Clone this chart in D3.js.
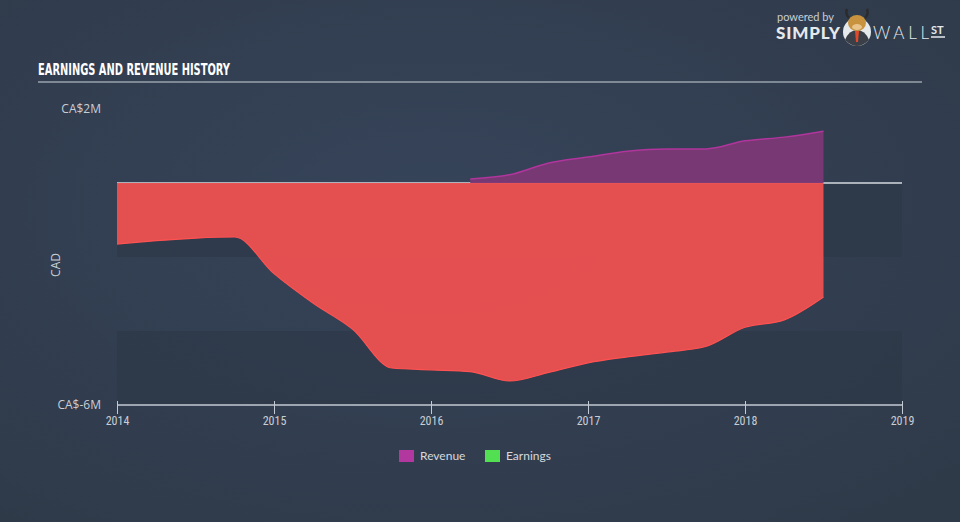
<!DOCTYPE html>
<html>
<head>
<meta charset="utf-8">
<script src="https://cdn.jsdelivr.net/npm/d3@7"></script>
<style>
  body { margin: 0; background: #344051; }
  svg { display: block; }
</style>
</head>
<body>
<script>
// data
var revenueYears = [2016.25, 2016.5, 2016.75, 2017.0, 2017.25, 2017.5, 2017.75, 2018.0, 2018.25, 2018.5];
var revenueValues = [0.11, 0.22, 0.54, 0.7, 0.86, 0.92, 0.92, 1.14, 1.24, 1.4];

var earningsYears = [2014.0, 2014.25, 2014.5, 2014.75, 2015.0, 2015.25, 2015.5, 2015.75, 2016.0, 2016.25,
                     2016.5, 2016.75, 2017.0, 2017.25, 2017.5, 2017.75, 2018.0, 2018.25, 2018.5];
var earningsValues = [-1.65, -1.56, -1.49, -1.46, -2.45, -3.25, -3.95, -5.0, -5.05, -5.1,
                      -5.35, -5.12, -4.86, -4.7, -4.57, -4.42, -3.9, -3.7, -3.08];

var xTicks = [2014, 2015, 2016, 2017, 2018, 2019];
var yTickValues = [2, -6];
var yTickLabels = ["CA$2M", "CA$-6M"];
var bandEdges = [2, 0, -2, -4, -6];
var legendNames = ["Revenue", "Earnings"];
var legendColors = ["#b2379e", "#52e052"];

var width = 960,
    height = 522;

var x = d3.scaleLinear().domain([2014, 2019]).range([117, 902]);
var y = d3.scaleLinear().domain([-6, 2]).range([405, 109]);

var svg = d3.select("body").append("svg")
    .attr("width", width)
    .attr("height", height);

var defs = svg.append("defs");
var bg = defs.append("radialGradient")
    .attr("id", "bg")
    .attr("cx", "45%").attr("cy", "40%").attr("r", "75%");
bg.append("stop").attr("offset", "0%").attr("stop-color", "#36445a");
bg.append("stop").attr("offset", "100%").attr("stop-color", "#2f3a49");

svg.append("rect")
    .attr("width", width)
    .attr("height", height)
    .attr("fill", "url(#bg)");

// title
svg.append("text")
    .attr("x", 38)
    .attr("y", 75)
    .attr("fill", "#ffffff")
    .style("font-family", "'DejaVu Sans Condensed', 'Liberation Sans Narrow', sans-serif")
    .style("font-weight", "bold")
    .style("font-size", "16px")
    .attr("textLength", 192)
    .attr("lengthAdjust", "spacingAndGlyphs")
    .text("EARNINGS AND REVENUE HISTORY");

svg.append("line")
    .attr("x1", 38).attr("x2", 922)
    .attr("y1", 82).attr("y2", 82)
    .attr("stroke", "#9aa3ad")
    .attr("stroke-width", 1.5);

// logo
var logo = svg.append("g").style("font-family", "Lato, 'Open Sans', sans-serif");
logo.append("text")
    .attr("x", 777).attr("y", 21)
    .attr("fill", "#c9ced5")
    .style("font-size", "11px")
    .text("powered by");
logo.append("text")
    .attr("x", 776).attr("y", 39)
    .attr("fill", "#e6e9ec")
    .style("font-size", "17px")
    .style("font-weight", "900")
    .attr("textLength", 64)
    .text("SIMPLY");
logo.append("circle")
    .attr("cx", 857).attr("cy", 32).attr("r", 14)
    .attr("fill", "#e6e9ec");
logo.append("path")
    .attr("d", "M845,40 Q849,30 857,30 Q865,30 869,40 Q863,46 857,46 Q851,46 845,40 Z")
    .attr("fill", "#3b3f47");
logo.append("path")
    .attr("d", "M855,31 L859,31 L858,42 L856,42 Z")
    .attr("fill", "#e04a2a");
logo.append("ellipse")
    .attr("cx", 857).attr("cy", 23).attr("rx", 9).attr("ry", 8)
    .attr("fill", "#c8923e");
logo.append("ellipse")
    .attr("cx", 857).attr("cy", 27).attr("rx", 5).attr("ry", 3)
    .attr("fill", "#e8c48a");
logo.append("path")
    .attr("d", "M849,18 Q845,14 847,9 M865,18 Q869,14 867,9")
    .attr("fill", "none")
    .attr("stroke", "#2b2b2b").attr("stroke-width", 2.5);
logo.append("text")
    .attr("x", 873).attr("y", 39)
    .attr("fill", "#e6e9ec")
    .style("font-size", "17px")
    .style("font-weight", "300")
    .attr("textLength", 56)
    .text("WALL");
logo.append("text")
    .attr("x", 931).attr("y", 34)
    .attr("fill", "#e6e9ec")
    .style("font-size", "11px")
    .style("font-weight", "bold")
    .text("ST");
logo.append("line")
    .attr("x1", 931).attr("x2", 945)
    .attr("y1", 37).attr("y2", 37)
    .attr("stroke", "#e6e9ec").attr("stroke-width", 1.5);

// bands
var bands = d3.pairs(bandEdges);
svg.selectAll(".band")
    .data(bands)
    .enter().append("rect")
    .attr("class", "band")
    .attr("x", x(2014))
    .attr("width", x(2019) - x(2014))
    .attr("y", function(d) { return y(d[0]); })
    .attr("height", function(d) { return y(d[1]) - y(d[0]); })
    .attr("fill", function(d, i) { return i % 2 ? "#2c3745" : "#36435a"; })
    .attr("fill-opacity", function(d, i) { return i % 2 ? 0.55 : 0.0; });

// zero line
svg.append("line")
    .attr("x1", x(2014)).attr("x2", x(2019))
    .attr("y1", y(0)).attr("y2", y(0))
    .attr("stroke", "#d6dade")
    .attr("stroke-width", 1.5);

var revenue = revenueYears.map(function(d, i) { return { year: d, value: revenueValues[i] }; });
var earnings = earningsYears.map(function(d, i) { return { year: d, value: earningsValues[i] }; });

var area = d3.area()
    .curve(d3.curveMonotoneX)
    .x(function(d) { return x(d.year); })
    .y0(y(0))
    .y1(function(d) { return y(d.value); });

var line = d3.line()
    .curve(d3.curveMonotoneX)
    .x(function(d) { return x(d.year); })
    .y(function(d) { return y(d.value); });

svg.append("path")
    .attr("d", area(revenue))
    .attr("fill", "#7b3875")
    .attr("fill-opacity", 0.97);
svg.append("path")
    .attr("d", line(revenue))
    .attr("fill", "none")
    .attr("stroke", "#b0359c")
    .attr("stroke-width", 1.5);

svg.append("path")
    .attr("d", area(earnings))
    .attr("fill", "#ea4f51")
    .attr("fill-opacity", 0.97);
svg.append("path")
    .attr("d", line(earnings))
    .attr("fill", "none")
    .attr("stroke", "#ff5252")
    .attr("stroke-width", 1.2);

// y labels
svg.selectAll(".ylab")
    .data(yTickValues)
    .enter().append("text")
    .attr("class", "ylab")
    .attr("x", 101)
    .attr("y", function(d) { return y(d) + 4; })
    .attr("text-anchor", "end")
    .attr("fill", "#c9ced5")
    .style("font-family", "'Open Sans', sans-serif")
    .style("font-size", "12px")
    .text(function(d, i) { return yTickLabels[i]; });

svg.append("text")
    .attr("transform", "translate(60,265) rotate(-90)")
    .attr("text-anchor", "middle")
    .attr("fill", "#c9ced5")
    .style("font-family", "'Open Sans', sans-serif")
    .style("font-size", "12px")
    .text("CAD");

// x axis
var xAxis = d3.axisBottom(x)
    .tickValues(xTicks)
    .tickFormat(d3.format("d"))
    .tickSize(8)
    .tickPadding(3);

var gx = svg.append("g")
    .attr("transform", "translate(0," + 405 + ")")
    .call(xAxis);
gx.select(".domain").attr("stroke", "#c3cad3").attr("stroke-width", 1.5).attr("d", "M" + x(2014) + ",0H" + x(2019));
gx.selectAll(".tick line").attr("stroke", "#c3cad3").attr("y1", -4).attr("y2", 9);
gx.selectAll(".tick text")
    .attr("fill", "#c9ced5")
    .style("font-family", "'Roboto Condensed', 'Liberation Sans Narrow', Roboto, sans-serif")
    .style("font-size", "12px");

// legend
var legend = svg.selectAll(".legend")
    .data(legendNames)
    .enter().append("g")
    .attr("class", "legend")
    .attr("transform", function(d, i) { return "translate(" + (399 + i * 86) + ",450)"; });
legend.append("rect")
    .attr("width", 15).attr("height", 12)
    .attr("fill", function(d, i) { return legendColors[i]; });
legend.append("text")
    .attr("x", 21).attr("y", 10)
    .attr("fill", "#d5d9de")
    .style("font-family", "Lato, 'Open Sans', sans-serif")
    .style("font-size", "12px")
    .text(function(d) { return d; });
</script>
</body>
</html>
